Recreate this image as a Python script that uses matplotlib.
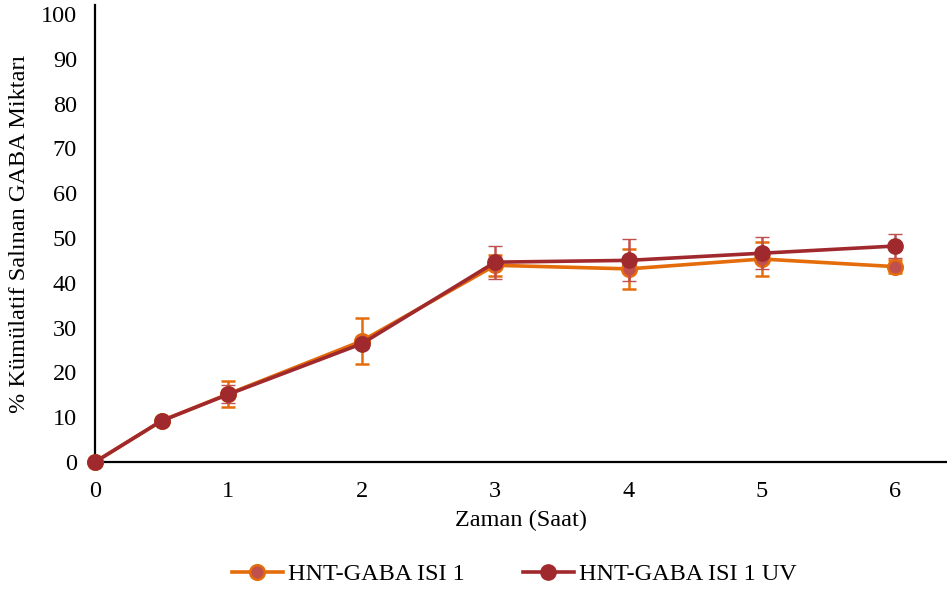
import matplotlib.pyplot as plt
from matplotlib.lines import Line2D
import numpy as np

# Release data: time (h) vs cumulative % GABA released
saat = [0, 0.5, 1, 2, 3, 4, 5, 6]
isi1 = [0, 9.2, 15.2, 27.0, 43.9, 43.1, 45.3, 43.6]
isi1_err = [0.3, 0.5, 2.9, 5.2, 2.4, 4.5, 3.8, 1.5]
isi1_uv = [0, 9.2, 15.1, 26.4, 44.6, 45.0, 46.6, 48.2]
isi1_uv_err = [0.3, 0.5, 2.0, 1.0, 3.7, 4.7, 3.6, 2.7]

turuncu = '#E46C0A'
kirmizi = '#C0504D'
koyu = '#A0292E'
fs = 17.5

plt.rcParams['font.family'] = ['Liberation Serif', 'DejaVu Serif']

fig = plt.figure(figsize=(9.47, 5.92), dpi=100)
ax = fig.add_axes([0.1003, 0.2196, 0.8987, 0.772])

stil1 = dict(color=turuncu, linewidth=2.6, marker='o', markersize=10.5,
             markerfacecolor=kirmizi, markeredgecolor=turuncu, markeredgewidth=1.8)
stil2 = dict(color=koyu, linewidth=2.6, marker='o', markersize=11,
             markerfacecolor=koyu, markeredgecolor=koyu, markeredgewidth=1)

ax.errorbar(saat, isi1, yerr=isi1_err, ecolor=turuncu, elinewidth=1.8,
            capsize=5, capthick=1.8, clip_on=False, zorder=3, **stil1)
ax.errorbar(saat, isi1_uv, yerr=isi1_uv_err, ecolor=kirmizi, elinewidth=1.8,
            capsize=5, capthick=1.8, clip_on=False, zorder=4, **stil2)

ax.set_xlim(0, 6.38)
ax.set_ylim(0, 102)
ax.set_xticks(range(0, 7))
ax.set_yticks(range(0, 101, 10))
ax.tick_params(length=0, labelsize=fs)
ax.tick_params(axis='x', pad=14)
ax.tick_params(axis='y', pad=13)

for s in ['top', 'right']:
    ax.spines[s].set_visible(False)
ax.spines['left'].set_linewidth(1.6)
ax.spines['bottom'].set_linewidth(1.6)

ax.set_xlabel('Zaman (Saat)', fontsize=fs, labelpad=5)
ax.set_ylabel('% Kümülatif Salınan GABA Miktarı', fontsize=fs, labelpad=8)

handles = [Line2D([], [], **stil1), Line2D([], [], **stil2)]
fig.legend(handles, ['HNT-GABA ISI 1', 'HNT-GABA ISI 1 UV'], loc='center',
           bbox_to_anchor=(0.543, 0.03), ncol=2, frameon=False, fontsize=fs,
           handlelength=2.1, handletextpad=0.2, columnspacing=2.4)

fig.savefig('out.png', dpi=100)
